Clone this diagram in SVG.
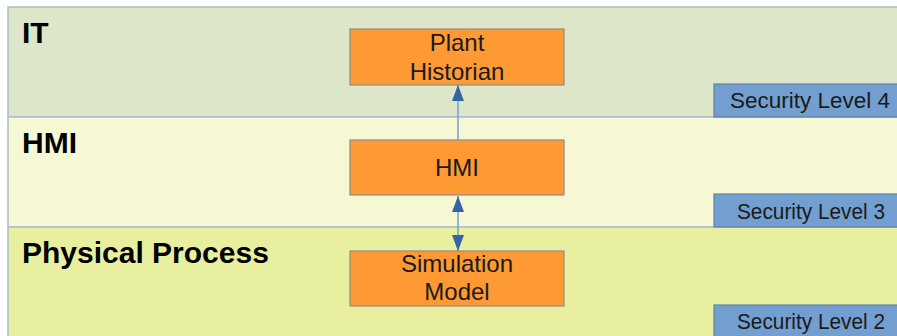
<svg xmlns="http://www.w3.org/2000/svg" width="897" height="336" viewBox="0 0 897 336">
<style>
.band{stroke:#a9bfc9;stroke-width:1.5}
.zone{font-family:"Liberation Sans",Arial,sans-serif;font-size:30px;font-weight:bold;fill:#000}
.node rect{fill:#ff9933;stroke:#8c8c8c;stroke-width:1.2}
.node text{font-family:"Liberation Sans",Arial,sans-serif;font-size:24px;fill:#1a1a1a;text-anchor:middle}
.sec rect{fill:#729fcf;stroke:#5c83ad;stroke-width:1.2}
.sec text{font-family:"Liberation Sans",Arial,sans-serif;font-size:22px;fill:#1a1a1a}
.conn{stroke:#729fcf;stroke-width:1.5;fill:none}
</style>
<defs>
<marker id="arr" viewBox="0 0 16 12" refX="16" refY="6" markerWidth="16" markerHeight="12" markerUnits="userSpaceOnUse" orient="auto-start-reverse">
<path d="M0,0 L16,6 L0,12 Z" fill="#3465a4"/>
</marker>
</defs>
<rect x="0" y="0" width="897" height="336" fill="#ffffff"/>
<g id="zone-it">
<rect class="band" x="8" y="7" width="895" height="110" fill="#dee6c9"/>
<text class="zone" x="22" y="43">IT</text>
</g>
<g id="zone-hmi">
<rect class="band" x="8" y="117" width="895" height="110" fill="#f6f8d4"/>
<text class="zone" x="22" y="153">HMI</text>
</g>
<g id="zone-physical">
<rect class="band" x="8" y="227" width="895" height="115" fill="#e8f09f"/>
<text class="zone" x="22" y="263">Physical Process</text>
</g>
<g id="sec4" class="sec">
<rect x="714" y="84" width="190" height="33"/>
<text x="730" y="108" textLength="160" lengthAdjust="spacingAndGlyphs">Security Level 4</text>
</g>
<g id="sec3" class="sec">
<rect x="714" y="194" width="190" height="33"/>
<text x="737" y="219" textLength="148" lengthAdjust="spacingAndGlyphs">Security Level 3</text>
</g>
<g id="sec2" class="sec">
<rect x="714" y="305" width="190" height="36"/>
<text x="737" y="329" textLength="148" lengthAdjust="spacingAndGlyphs">Security Level 2</text>
</g>
<g id="connectors">
<line class="conn" x1="458" y1="140" x2="458" y2="85" marker-end="url(#arr)"/>
<line class="conn" x1="458" y1="196" x2="458" y2="251" marker-start="url(#arr)" marker-end="url(#arr)"/>
</g>
<g id="plant-historian" class="node">
<rect x="350" y="29" width="214" height="56"/>
<text x="457" y="51">Plant</text>
<text x="457" y="80">Historian</text>
</g>
<g id="hmi" class="node">
<rect x="350" y="140" width="214" height="55"/>
<text x="457" y="176">HMI</text>
</g>
<g id="simulation-model" class="node">
<rect x="350" y="251" width="214" height="55"/>
<text x="457" y="272">Simulation</text>
<text x="457" y="300">Model</text>
</g>
</svg>
